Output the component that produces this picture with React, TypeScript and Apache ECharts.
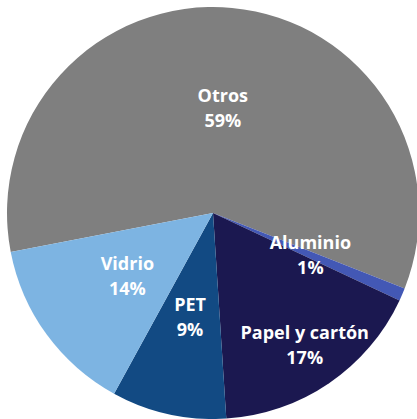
import React, { useEffect, useRef } from "react";
import * as echarts from "echarts";

const categories = ["Otros", "Aluminio", "Papel y cartón", "PET", "Vidrio"];
const values = [59, 1, 17, 9, 14];
const colors = ["#7f7f7f", "#4358b5", "#1b1850", "#124a83", "#7db4e2"];

export default function App() {
  const ref = useRef<HTMLDivElement>(null);
  useEffect(() => {
    if (!ref.current) return;
    const chart = echarts.init(ref.current, undefined, { renderer: "svg" });
    chart.setOption({
      animation: false,
      backgroundColor: "#ffffff",
      series: [
        {
          type: "pie",
          center: [213, 213],
          radius: [0, 206],
          startAngle: 190.9,
          clockwise: true,
          avoidLabelOverlap: false,
          label: {
            show: true,
            position: "inside",
            formatter: "{b}\n{c}%",
            color: "#ffffff",
            fontFamily: "'Open Sans', 'Noto Sans', sans-serif",
            fontWeight: "bold",
            fontSize: 18,
            lineHeight: 25,
          },
          labelLine: { show: false },
          labelLayout: (params: any) =>
            params.dataIndex === 2 ? { dx: 32, dy: 44 } : {},
          itemStyle: { borderWidth: 0 },
          emphasis: { disabled: true },
          data: categories.map((name, i) => ({
            name,
            value: values[i],
            itemStyle: { color: colors[i] },
          })),
        },
      ],
    });
    return () => chart.dispose();
  }, []);
  return (
    <div
      ref={ref}
      style={{ position: "absolute", left: 0, top: 0, width: 417, height: 419 }}
    />
  );
}
